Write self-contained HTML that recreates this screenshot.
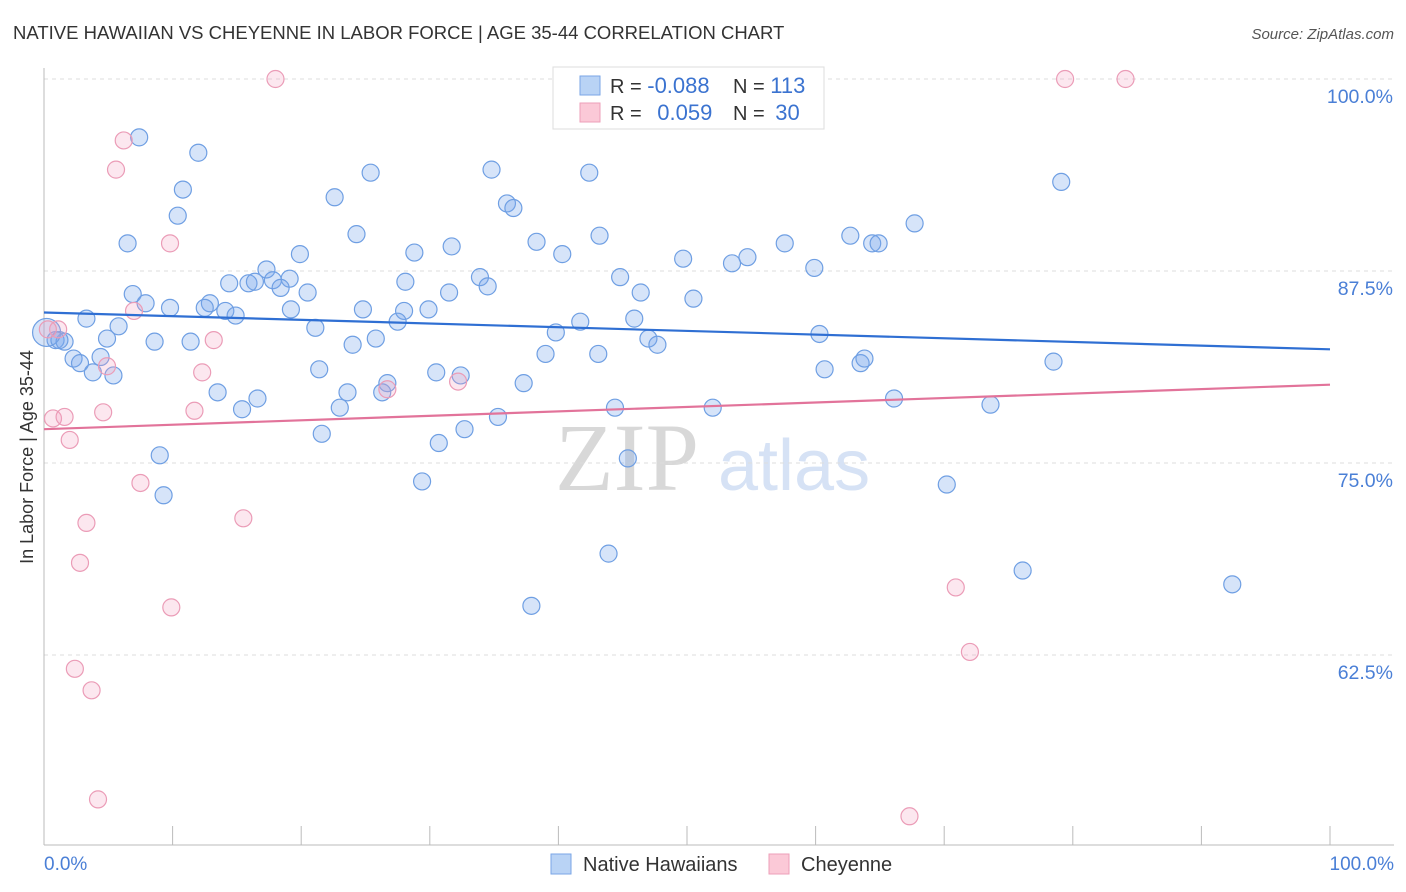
<!DOCTYPE html>
<html><head><meta charset="utf-8">
<style>
body{margin:0;background:#fff;font-family:"Liberation Sans",sans-serif;}
svg{display:block}
</style></head>
<body>
<svg id="chart" width="1406" height="892" xmlns="http://www.w3.org/2000/svg" font-family="Liberation Sans, sans-serif">
<text x="13" y="39" font-size="18.5" fill="#333">NATIVE HAWAIIAN VS CHEYENNE IN LABOR FORCE | AGE 35-44 CORRELATION CHART</text>
<text x="1394" y="39" font-size="15" fill="#555" font-style="italic" text-anchor="end">Source: ZipAtlas.com</text>
<g>
<text x="555" y="490" font-size="96" fill="#d8d8d8" font-family="Liberation Serif, serif">ZIP</text>
<text x="718" y="490" font-size="72" fill="#d6e2f5">atlas</text>
</g>
<g id="grid"></g>
<g id="axes"></g>
<g id="pts"></g>
<g id="trends"></g>
<text transform="translate(33,457) rotate(-90)" font-size="18" fill="#333" text-anchor="middle">In Labor Force | Age 35-44</text>
<g>
<rect x="553" y="67" width="271" height="62" fill="#fff" stroke="#ddd"/>
<rect x="580" y="76" width="20" height="19" fill="#b9d3f5" stroke="#7aa6e6"/>
<rect x="580" y="103" width="20" height="19" fill="#fbc9d7" stroke="#ee9fb8"/>
<text x="610" y="93" font-size="20" fill="#333">R = <tspan fill="#3b73d0" font-size="22">-0.088</tspan></text>
<text x="733" y="93" font-size="20" fill="#333">N = <tspan fill="#3b73d0" font-size="22">113</tspan></text>
<text x="610" y="120" font-size="20" fill="#333">R = <tspan fill="#3b73d0" dx="10" font-size="22">0.059</tspan></text>
<text x="733" y="120" font-size="20" fill="#333">N = <tspan fill="#3b73d0" dx="5" font-size="22">30</tspan></text>
</g>
<g>
<rect x="551" y="854" width="20" height="20" fill="#b9d3f5" stroke="#7aa6e6"/>
<text x="583" y="871" font-size="20" fill="#333">Native Hawaiians</text>
<rect x="769" y="854" width="20" height="20" fill="#fbc9d7" stroke="#ee9fb8"/>
<text x="801" y="871" font-size="20" fill="#333">Cheyenne</text>
</g>
</svg>
<script>
const yTicks=[100,87.5,75,62.5];
const yTickLabels=["100.0%","87.5%","75.0%","62.5%"];
const xLabels=["0.0%","100.0%"];
const blueX=[7.4,12.0,10.8,10.4,6.5,25.4,22.6,34.8,42.4,36.0,36.5,24.3,28.8,31.7,38.3,40.3,43.2,49.7,53.5,54.7,57.6,62.7,64.4,64.9,67.7,79.1,59.9,17.3,15.9,16.4,14.4,17.8,19.1,18.4,20.5,19.9,28.1,31.5,33.9,34.5,44.8,46.4,50.5,6.9,7.9,9.8,12.9,12.5,14.1,14.9,19.2,24.8,28.0,27.5,29.9,21.1,3.3,5.8,0.9,1.6,4.9,8.6,11.4,24.0,25.8,39.8,41.7,45.9,47.0,47.7,60.3,2.3,2.8,4.4,3.8,5.4,21.4,26.7,26.3,30.5,32.4,37.3,39.0,43.1,63.5,63.8,78.5,60.7,13.5,15.4,16.6,23.0,23.6,44.4,52.0,66.1,73.6,35.3,21.6,30.7,32.7,45.4,9.0,9.3,29.4,70.2,43.9,76.1,37.9,92.4,59.4,0.2,1.2];
const blueY=[96.2,95.2,92.8,91.1,89.3,93.9,92.3,94.1,93.9,91.9,91.6,89.9,88.7,89.1,89.4,88.6,89.8,88.3,88.0,88.4,89.3,89.8,89.3,89.3,90.6,93.3,87.7,87.6,86.7,86.8,86.7,86.9,87.0,86.4,86.1,88.6,86.8,86.1,87.1,86.5,87.1,86.1,85.7,86.0,85.4,85.1,85.4,85.1,84.9,84.6,85.0,85.0,84.9,84.2,85.0,83.8,84.4,83.9,83.0,82.9,83.1,82.9,82.9,82.7,83.1,83.5,84.2,84.4,83.1,82.7,83.4,81.8,81.5,81.9,80.9,80.7,81.1,80.2,79.6,80.9,80.7,80.2,82.1,82.1,81.5,81.8,81.6,81.1,79.6,78.5,79.2,78.6,79.6,78.6,78.6,79.2,78.8,78.0,76.9,76.3,77.2,75.3,75.5,72.9,73.8,73.6,69.1,68.0,65.7,67.1,100.0,83.5,83.0];
const pinkX=[18.0,79.4,84.1,6.2,5.6,9.8,7.0,1.1,13.2,4.9,12.3,26.7,32.2,0.7,1.6,4.6,11.7,2.0,7.5,15.5,3.3,2.8,9.9,70.9,72.0,2.4,3.7,4.2,67.3,0.3];
const pinkY=[100.0,100.0,100.0,96.0,94.1,89.3,84.9,83.7,83.0,81.3,80.9,79.8,80.3,77.9,78.0,78.3,78.4,76.5,73.7,71.4,71.1,68.5,65.6,66.9,62.7,61.6,60.2,53.1,52.0,83.7];
const blueTrend=[84.8,82.4];
const pinkTrend=[77.2,80.1];
const NS="http://www.w3.org/2000/svg";
const X0=44,X1=1330,YTOP=79,PX=192/12.5;
const sx=v=>X0+(X1-X0)*v/100;
const sy=v=>YTOP+(100-v)*PX;
function mk(t,a,p){const e=document.createElementNS(NS,t);for(const k in a)e.setAttribute(k,a[k]);p.appendChild(e);return e;}
const grid=document.getElementById('grid'),axes=document.getElementById('axes');
yTicks.forEach((v,i)=>{
 const l=mk('line',{x1:X0,x2:1394,y1:sy(v),y2:sy(v),stroke:'#ddd','stroke-dasharray':'4,4'},grid);
 
 
 const t=mk('text',{x:1393,y:sy(v)+24,'font-size':19.5,fill:'#4a7fd6','text-anchor':'end'},grid);
 t.textContent=yTickLabels[i];
 
 
});
const xa=mk('line',{x1:X0,x2:1394,y1:845,y2:845,stroke:'#bbb'},axes);


const ya=mk('line',{x1:X0,x2:X0,y1:68,y2:845,stroke:'#bbb'},axes);


for(let i=1;i<=10;i++){
 const t=mk('line',{x1:sx(i*10),x2:sx(i*10),y1:826,y2:845,stroke:'#bbb'},axes);
 
 
}
[[0,'start',44],[100,'end',1394]].forEach((d,i)=>{
 const t=mk('text',{x:d[2],y:870,'font-size':19,fill:'#4a7fd6','text-anchor':d[1]},axes);
 t.textContent=xLabels[i];
 
 
});
const pts=document.getElementById('pts');
blueX.forEach((x,i)=>{
 const r=(i===blueX.length-2)?14:8.5;
 const c=mk('circle',{cx:sx(x),cy:sy(blueY[i]),r:r,fill:'rgba(120,165,235,0.3)',stroke:'#6f9fe3','stroke-width':1.2},pts);
 
 
});
pinkX.forEach((x,i)=>{
 const c=mk('circle',{cx:sx(x),cy:sy(pinkY[i]),r:8.5,fill:'rgba(245,160,190,0.25)',stroke:'#eb9cb7','stroke-width':1.2},pts);
 
 
});
const tr=document.getElementById('trends');
const bl=mk('line',{x1:sx(0),x2:sx(100),y1:sy(blueTrend[0]),y2:sy(blueTrend[1]),stroke:'#2f6fd3','stroke-width':2.2},tr);


const pl=mk('line',{x1:sx(0),x2:sx(100),y1:sy(pinkTrend[0]),y2:sy(pinkTrend[1]),stroke:'#e2739a','stroke-width':2.2},tr);


</script>
</body></html>
